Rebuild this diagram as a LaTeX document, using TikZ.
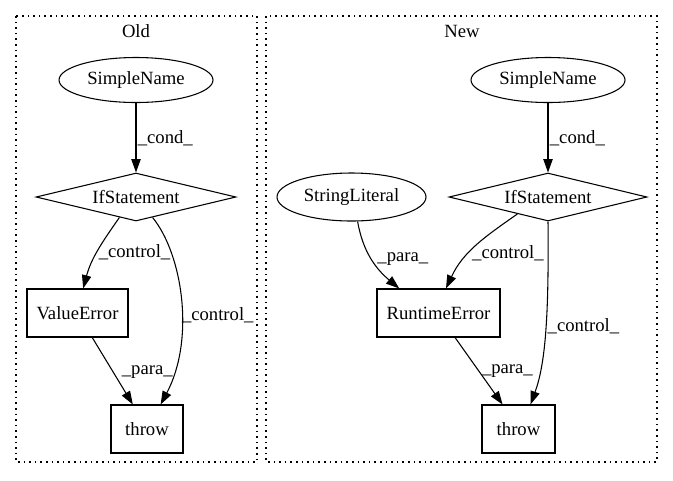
\documentclass[tikz,border=0pt]{standalone}
\usepackage{fontspec}
\setmainfont{Liberation Serif}
\usetikzlibrary{shapes.geometric, arrows.meta}
\tikzstyle{oval} = [ellipse, draw=black, line width=0.8pt, inner sep=0pt, minimum width=115.5pt, minimum height=33.75pt]
\tikzstyle{rect} = [rectangle, draw=black, line width=0.8pt, inner sep=0pt, minimum height=36pt]
\tikzstyle{decision} = [diamond, draw=black, line width=0.8pt, inner sep=0pt, shape aspect=4.17, minimum width=150pt, minimum height=36pt]
\tikzstyle{blank} = [rectangle, inner sep=0pt]
\tikzstyle{arrow} = [-{Triangle[length=10pt,width=7pt]}, line width=0.8pt]
\tikzstyle{cluster} = [draw=black, line width=0.9pt, dash pattern=on 1.2pt off 3pt]

\begin{document}
\begin{tikzpicture}[x=0.75pt, y=-0.75pt, font=\fontsize{14pt}{17pt}\selectfont]
        \useasboundingbox (0,0) rectangle (673,480);
        \draw[cluster] (16,16) rectangle (257,462);
        \draw[cluster] (266,16) rectangle (657,462);

        \node[blank] (old) at (136,31) {Old};
        \node[oval] (sn1) at (136,80) {SimpleName};
        \node[decision] (if1) at (136,197) {IfStatement};
        \node[rect, minimum width=75.75pt] (ve1) at (77.5,313) {ValueError};
        \node[rect, minimum width=54pt] (th1) at (147,429) {throw};

        \node[blank] (new) at (462,31) {New};
        \node[oval] (sn2) at (548,80) {SimpleName};
        \node[decision, minimum width=148.5pt] (if2) at (548,197) {IfStatement};
        \node[oval, minimum width=111.75pt, minimum height=36pt] (sl2) at (351.5,197) {StringLiteral};
        \node[rect, minimum width=92.25pt] (rt2) at (438.5,313) {RuntimeError};
        \node[rect, minimum width=54.75pt] (th2) at (518.5,429) {throw};

        \draw[arrow] (sn1) -- node[blank, right=1pt] {\_cond\_} (if1);
        \draw[arrow] (if1.-129) to[out=-125, in=75] node[blank, right=1pt, pos=0.52] {\_control\_} (ve1.77);
        \draw[arrow] (if1.-51) .. controls (183,255) and (195,340) .. node[blank, right=0pt, pos=0.57] {\_control\_} (th1.61);
        \draw[arrow] (ve1.-59) -- node[blank, right=6pt, pos=0.52] {\_para\_} (th1.120);

        \draw[arrow] (sn2) -- node[blank, right=1pt] {\_cond\_} (if2);
        \draw[arrow] (sl2.-76) to[out=-80, in=140] node[blank, right=4pt] {\_para\_} (rt2.148);
        \draw[arrow] (if2.-151) to[out=-145, in=65] node[blank, right=2pt, pos=0.6] {\_control\_} (rt2.73);
        \draw[arrow] (if2.south) .. controls (549,320) and (545,365) .. node[blank, right=1pt, pos=0.45] {\_control\_} (th2.64);
        \draw[arrow] (rt2.-56) -- node[blank, right=2pt] {\_para\_} (th2.123);
\end{tikzpicture}
\end{document}
